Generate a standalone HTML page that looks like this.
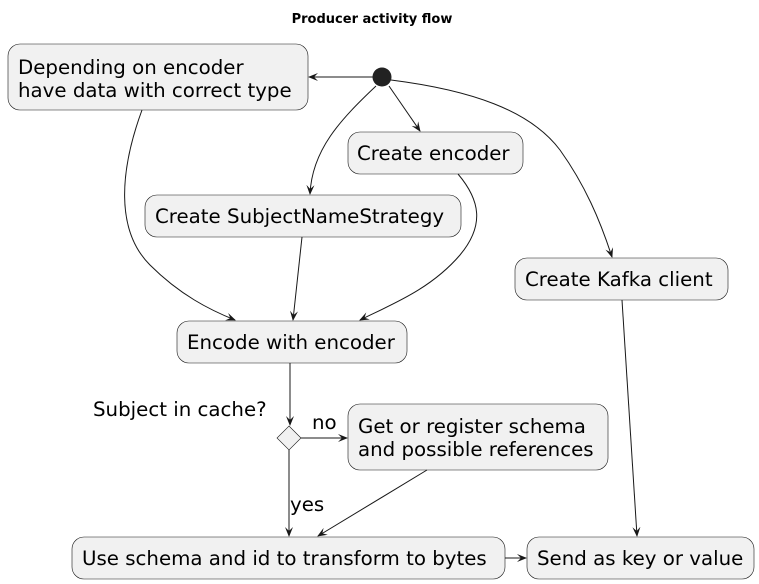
<!DOCTYPE html>
<html><head><meta charset="utf-8"><style>
html,body{margin:0;padding:0;background:#fff;}
svg{display:block;}
text{font-family:"DejaVu Sans","Liberation Sans",sans-serif;fill:#000;}
.n{fill:#F1F1F1;stroke:#181818;stroke-width:0.6;}
.e{fill:none;stroke:#181818;stroke-width:1;}
.t{font-size:19.8px;}
</style></head><body>
<svg width="759" height="584" viewBox="0 0 759 584" xmlns="http://www.w3.org/2000/svg">
<defs><marker id="a" markerWidth="10" markerHeight="10" refX="9" refY="5" orient="auto" markerUnits="userSpaceOnUse"><path d="M0,1 L10,5 L0,9 L4,5 Z" fill="#181818"/></marker></defs>
<text x="372" y="23" text-anchor="middle" style="font-size:13px;font-weight:bold">Producer activity flow</text>

<rect class="n" x="8" y="44" width="300" height="66" rx="12"/>
<text class="t" x="18" y="74">Depending on encoder</text>
<text class="t" x="18" y="97">have data with correct type</text>

<circle cx="382" cy="77" r="9.5" fill="#222"/>

<rect class="n" x="348" y="132" width="175" height="42" rx="12"/>
<text class="t" x="357" y="160">Create encoder</text>

<rect class="n" x="145" y="195" width="316" height="42" rx="12"/>
<text class="t" x="155" y="223">Create SubjectNameStrategy</text>

<rect class="n" x="515" y="258" width="213" height="42" rx="12"/>
<text class="t" x="525" y="286">Create Kafka client</text>

<rect class="n" x="177" y="321" width="230" height="42" rx="12"/>
<text class="t" x="187" y="349">Encode with encoder</text>

<polygon class="n" points="289,426 301,438 289,450 277,438"/>
<text class="t" x="93" y="416">Subject in cache?</text>

<rect class="n" x="348" y="404" width="260" height="66" rx="12"/>
<text class="t" x="358" y="433">Get or register schema</text>
<text class="t" x="358" y="456">and possible references</text>
<text class="t" x="312" y="429">no</text>
<text class="t" x="290" y="511">yes</text>

<rect class="n" x="72" y="537" width="433" height="42" rx="12"/>
<text class="t" x="82" y="565">Use schema and id to transform to bytes</text>

<rect class="n" x="527" y="537" width="227" height="42" rx="12"/>
<text class="t" x="537" y="565">Send as key or value</text>

<path class="e" marker-end="url(#a)" d="M373,77 L309,77"/>
<path class="e" marker-end="url(#a)" d="M389,86 L420,131"/>
<path class="e" marker-end="url(#a)" d="M376,86 C340,120 312,150 310,194"/>
<path class="e" marker-end="url(#a)" d="M391,80 C470,90 530,110 560,150 C585,185 600,220 612,257"/>
<path class="e" marker-end="url(#a)" d="M142,110 C120,170 115,230 150,265 C180,295 210,310 235,320"/>
<path class="e" marker-end="url(#a)" d="M302,237 L293,320"/>
<path class="e" marker-end="url(#a)" d="M458,174 C480,200 485,225 460,255 C430,290 390,305 360,320"/>
<path class="e" marker-end="url(#a)" d="M290,363 L290,425"/>
<path class="e" marker-end="url(#a)" d="M301,438 L347,438"/>
<path class="e" marker-end="url(#a)" d="M289,450 L289,536"/>
<path class="e" marker-end="url(#a)" d="M427,470 L318,536"/>
<path class="e" marker-end="url(#a)" d="M622,300 L637,536"/>
<path class="e" marker-end="url(#a)" d="M505,558 L526,558"/>
</svg>
</body></html>
